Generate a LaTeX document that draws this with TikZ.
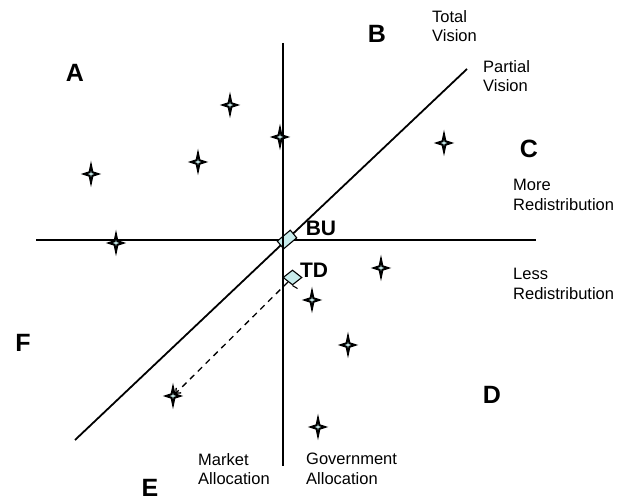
\documentclass[tikz,border=0pt]{standalone}
\usepackage{fontspec}
\setmainfont{Liberation Sans}
\usetikzlibrary{shapes.geometric,arrows.meta}
\definecolor{paleblue}{RGB}{200,236,236}
\begin{document}
\begin{tikzpicture}[x=1pt,y=-1pt,
  axis/.style={line width=1.8pt},
  starmark/.style={star, star points=4, star point ratio=3.4, minimum size=17pt, inner sep=0pt, draw, line width=2pt, fill=paleblue, xscale=0.82, transform shape},
  pointmark/.style={diamond, minimum width=19pt, minimum height=15pt, inner sep=0pt, draw, line width=1.1pt, fill=paleblue},
  biglabel/.style={font=\fontsize{25}{30}\selectfont\bfseries, inner sep=0pt},
  midlabel/.style={font=\fontsize{21}{25}\selectfont\bfseries, inner sep=0pt},
  axislabel/.style={font=\fontsize{16.5}{19.5}\selectfont, align=left, anchor=north west, inner sep=0pt}]
\useasboundingbox (0,0) rectangle (622,502);

% axes
\coordinate (vtop) at (283,43);
\coordinate (vbot) at (283,466);
\coordinate (hl) at (36,240);
\coordinate (hr) at (536,240);
\coordinate (dl) at (75,440);
\coordinate (dr) at (467,69);
\draw[axis] (vtop) -- (vbot);
\draw[axis] (hl) -- (hr);
\draw[axis] (dl) -- (dr);

% stars
\node[starmark] (s1) at (230,105) {};
\node[starmark] (s2) at (280,137) {};
\node[starmark] (s3) at (198,162) {};
\node[starmark] (s4) at (91,174) {};
\node[starmark] (s5) at (116,243) {};
\node[starmark] (s6) at (444,143) {};
\node[starmark] (s7) at (381,268) {};
\node[starmark] (s8) at (312,300) {};
\node[starmark] (s9) at (348,345) {};
\node[starmark] (s10) at (173,396) {};
\node[starmark] (s11) at (318,427) {};

% points
\node[rectangle, draw, line width=1.1pt, fill=paleblue, minimum width=17pt, minimum height=10pt, inner sep=0pt, rotate=40] (bu) at (287,239.5) {};
\draw[axis] (283,228) -- (283,252);
\node[pointmark] (td) at (292.5,277.5) {};
\coordinate (tdtail) at ([shift={(5,3)}]td.south);
\draw[line width=1.1pt] (td.south) -- (tdtail);
\draw[line width=1.3pt, dash pattern=on 6pt off 5pt, -{Straight Barb[length=4pt,width=7pt]}, shorten >=3pt] (td) -- (s10.center);

% region letters
\node[biglabel] (A) at (75,73) {A};
\node[biglabel] (B) at (377,34) {B};
\node[biglabel] (C) at (529,149) {C};
\node[biglabel] (D) at (492,395) {D};
\node[biglabel] (E) at (150,488) {E};
\node[biglabel] (F) at (23,343) {F};
\node[midlabel] (BUl) at (321,228) {BU};
\node[midlabel] (TDl) at (314,270) {TD};

% axis labels
\node[axislabel] (tv) at (432,10) {Total\\Vision};
\node[axislabel] (pv) at (483,60) {Partial\\Vision};
\node[axislabel] (mr) at (513,179) {More\\Redistribution};
\node[axislabel] (lr) at (513,268) {Less\\Redistribution};
\node[axislabel] (ma) at (198,453) {Market\\Allocation};
\node[axislabel] (ga) at (306,453) {Government\\Allocation};
\end{tikzpicture}
\end{document}
